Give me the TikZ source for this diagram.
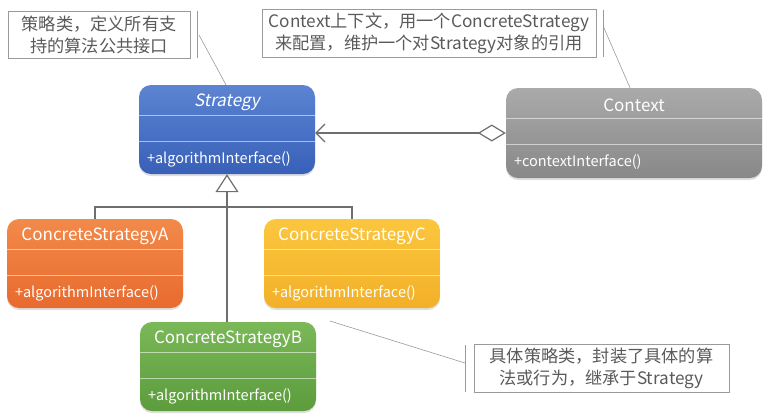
\documentclass[tikz,border=0pt]{standalone}
\usepackage{fontspec}
\setmainfont{Noto Sans CJK SC}
\newfontfamily\slantfont{Noto Sans CJK SC}[FakeSlant=0.2]
\usetikzlibrary{arrows.meta,shadows,calc}
\definecolor{notetext}{HTML}{5A5A5A}
\definecolor{noteline}{HTML}{9A9A9A}
\definecolor{conn}{HTML}{6E6E6E}
\newcommand{\umlclass}[6]{%
  \node[classbox,#3] (#1) at (#2) {};
  \node[titletext] (#1t) at ($(#1.north)+(0,17.5)$) {#5#4};
  \draw[divider] ($(#1.north west)+(0,31)$) -- ($(#1.north east)+(0,31)$);
  \draw[divider] ($(#1.north west)+(0,57)$) -- ($(#1.north east)+(0,57)$);
  \node[methtext] (#1m) at ($(#1.north west)+(8,74.5)$) {#6};
}
\begin{document}
\begin{tikzpicture}[x=1pt,y=-1pt,
  classbox/.style={rounded corners=12pt, minimum width=176pt, minimum height=89pt,
    inner sep=0pt, draw=none, drop shadow={opacity=0.25, shadow xshift=0pt, shadow yshift=-2pt}},
  blueshade/.style={top color={rgb,255:red,92;green,132;blue,210}, bottom color={rgb,255:red,56;green,96;blue,184}},
  orangeshade/.style={top color={rgb,255:red,242;green,138;blue,74}, bottom color={rgb,255:red,232;green,106;blue,46}},
  yellowshade/.style={top color={rgb,255:red,251;green,198;blue,62}, bottom color={rgb,255:red,242;green,176;blue,40}},
  greenshade/.style={top color={rgb,255:red,122;green,184;blue,88}, bottom color={rgb,255:red,92;green,156;blue,60}},
  grayshade/.style={top color={rgb,255:red,170;green,170;blue,170}, bottom color={rgb,255:red,136;green,136;blue,136}},
  titletext/.style={text=white, font=\fontsize{17}{19}\selectfont, inner sep=0pt},
  methtext/.style={text=white, font=\fontsize{14.5}{17}\selectfont, anchor=west, inner sep=0pt},
  divider/.style={draw=white, draw opacity=0.55, line width=0.8pt},
  note/.style={draw=noteline, line width=0.7pt, text=notetext, align=center,
    font=\fontsize{17.2}{22}\selectfont, inner sep=0pt},
  noteconn/.style={draw=noteline, line width=0.6pt},
  conline/.style={draw=conn, line width=1.3pt},
]
\useasboundingbox (0,0) rectangle (784,416);

% classes
\umlclass{S}{227,129.5}{blueshade}{Strategy}{\slantfont}{+algorithmInterface()}
\umlclass{Ctx}{634,133}{grayshade,minimum width=256pt,minimum height=90pt}{Context}{}{+contextInterface()}
\umlclass{A}{95,263.5}{orangeshade}{ConcreteStrategyA}{}{+algorithmInterface()}
\umlclass{C}{352,263.5}{yellowshade}{ConcreteStrategyC}{}{+algorithmInterface()}
\umlclass{B}{228,366.5}{greenshade}{ConcreteStrategyB}{}{+algorithmInterface()}

% notes
\node[note, minimum width=182pt, minimum height=47pt] (n1) at (99,34.5)
  {策略类，定义所有支\\持的算法公共接口};
\node[note, minimum width=334pt, minimum height=48pt] (n2) at (429,33)
  {Context上下文，用一个ConcreteStrategy\\来配置，维护一个对Strategy对象的引用};
\node[note, minimum width=255pt, minimum height=48pt] (n3) at (601.5,368)
  {具体策略类，封装了具体的算\\法或行为，继承于Strategy};

% note brackets and leaders
\coordinate (b1t) at (197,11); \coordinate (b1b) at (197,58); \coordinate (b1m) at (199,35);
\draw[noteconn] (b1t) -- (b1b);
\draw[noteconn] (b1m) -- ([xshift=-1pt]S.north);
\coordinate (b2t) at (603,10); \coordinate (b2b) at (603,57); \coordinate (b2m) at (604,28);
\draw[noteconn] (b2t) -- (b2b);
\draw[noteconn] (b2m) -- ([xshift=-4pt]Ctx.north);
\coordinate (b3t) at (465,345); \coordinate (b3b) at (465,392); \coordinate (b3m) at (465,363);
\coordinate (b3e) at (330,321);
\draw[noteconn] (b3t) -- (b3b);
\draw[noteconn] (b3e) -- (b3m);

% aggregation
\draw[conline, {Diamond[open, length=28pt, width=17pt, line width=1.2pt]}-{Straight Barb[length=9pt, width=18pt, line width=1.2pt]}]
  (Ctx.west) -- (S.east |- Ctx.west);

% inheritance
\coordinate (j) at (227,207);
\draw[conline, -{Triangle[open, length=18pt, width=23pt, line width=1.2pt, fill=white]}]
  (B.north -| j) -- (S.south);
\draw[conline] (A.north) |- (j) -| (C.north);
\end{tikzpicture}
\end{document}
